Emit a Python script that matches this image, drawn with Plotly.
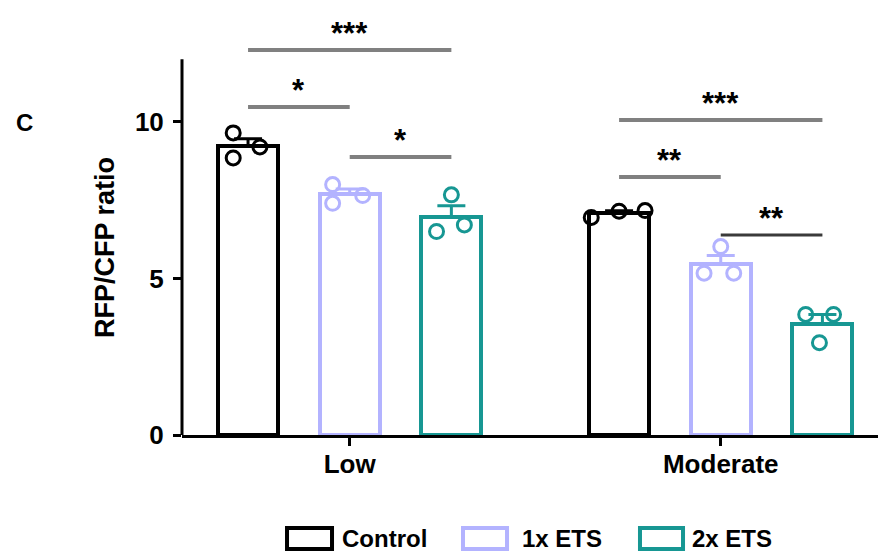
import numpy as np
import plotly.graph_objects as go

# ---------------- data ----------------
groups = ["Low", "Moderate"]
series = ["Control", "1x ETS", "2x ETS"]
# individual replicate values (RFP/CFP ratio), per group
control_pts = [[9.65, 8.85, 9.2], [6.95, 7.15, 7.17]]
ets1_pts = [[8.0, 7.4, 7.65], [6.02, 5.17, 5.17]]
ets2_pts = [[7.67, 6.5, 6.71], [3.85, 3.85, 2.95]]
y_ticks = [0, 5, 10]
# significance comparisons: (group index, series a, series b, label)
comparisons = [
    (0, 0, 2, "***"),
    (0, 0, 1, "*"),
    (0, 1, 2, "*"),
    (1, 0, 2, "***"),
    (1, 0, 1, "**"),
    (1, 1, 2, "**"),
]

# ---------------- style / layout ----------------
colors = ["#000000", "#b3b3ff", "#179793"]
slot = 0.274            # distance between bar centres within a group
bar_w = 0.162
jitter = [  # horizontal spread of replicate points (layout only)
    [[-0.04, -0.04, 0.032], [-0.075, 0.0, 0.07]],
    [[-0.046, -0.046, 0.035], [0.0, -0.045, 0.035]],
    [[0.0, -0.04, 0.035], [-0.045, 0.03, -0.008]],
]
sig_levels = [12.30, 10.48, 8.88, 10.06, 8.24, 6.39]
sig_colors = ["#808080", "#808080", "#808080", "#808080", "#808080", "#3a3a3a"]
sig_widths = [4, 4, 4, 4, 4, 3]
FONT = "Liberation Sans"

all_pts = [control_pts, ets1_pts, ets2_pts]
gx = np.arange(len(groups))

fig = go.Figure()
for k, (name, pts) in enumerate(zip(series, all_pts)):
    arr = np.array(pts, dtype=float)
    means = arr.mean(axis=1)
    sems = arr.std(axis=1, ddof=1) / np.sqrt(arr.shape[1])
    xc = gx + (k - 1) * slot
    fig.add_trace(go.Bar(
        x=xc, y=means, width=bar_w, name=name, showlegend=False,
        marker=dict(color="white", line=dict(color=colors[k], width=4)),
        error_y=dict(type="data", symmetric=False, array=sems,
                     arrayminus=[0] * len(means), color=colors[k],
                     thickness=3, width=14),
    ))
    px_, py_ = [], []
    for g in range(len(groups)):
        for j, v in enumerate(pts[g]):
            px_.append(xc[g] + jitter[k][g][j])
            py_.append(v)
    fig.add_trace(go.Scatter(
        x=px_, y=py_, mode="markers", showlegend=False,
        marker=dict(symbol="circle-open", size=14, color=colors[k],
                    line=dict(width=3, color=colors[k])),
    ))

# significance brackets
for (g, a, b, lab), lvl, c, w in zip(comparisons, sig_levels, sig_colors, sig_widths):
    x0 = g + (a - 1) * slot
    x1 = g + (b - 1) * slot
    fig.add_shape(type="line", xref="x", yref="y", x0=x0, x1=x1, y0=lvl, y1=lvl,
                  line=dict(color=c, width=w))
    fig.add_annotation(x=(x0 + x1) / 2, y=lvl, xref="x", yref="y", text=lab,
                       showarrow=False, yanchor="bottom", xanchor="center", yshift=-3,
                       font=dict(family=FONT, size=31, color="black", weight="bold"))

# y-axis line (only up to 12)
ymax_axis = 12
yr = [0, 13]
fig.add_shape(type="line", xref="paper", yref="paper", x0=0, x1=0,
              y0=0, y1=ymax_axis / yr[1], line=dict(color="black", width=3))

# custom legend
leg_boxes = [(0.1496, 0.2137), (0.4003, 0.4630), (0.6524, 0.7137)]
leg_text_x = [0.2251, 0.4815, 0.7236]
for k, name in enumerate(series):
    fig.add_shape(type="rect", xref="paper", yref="paper",
                  x0=leg_boxes[k][0], x1=leg_boxes[k][1], y0=-0.2801, y1=-0.2285,
                  line=dict(color=colors[k], width=4), fillcolor="white")
    fig.add_annotation(x=leg_text_x[k], y=-0.254, xref="paper", yref="paper",
                       text=name, showarrow=False, xanchor="left", yanchor="middle",
                       font=dict(family=FONT, size=24, color="black", weight="bold"))

# panel letter and y title
fig.add_annotation(x=-0.225, y=0.769, xref="paper", yref="paper", text="C",
                   showarrow=False, xanchor="center", yanchor="middle",
                   font=dict(family=FONT, size=24, color="black", weight="bold"))
fig.add_annotation(x=-0.1097, y=0.462, xref="paper", yref="paper", text="RFP/CFP ratio",
                   textangle=-90, showarrow=False, xanchor="center", yanchor="middle",
                   font=dict(family=FONT, size=27, color="black", weight="bold"))

fig.update_layout(
    width=886, height=559,
    margin=dict(l=174, r=10, t=20, b=132),
    plot_bgcolor="white", paper_bgcolor="white",
    bargap=0, barmode="overlay",
    xaxis=dict(range=[-0.452, 1.44], tickvals=list(gx), ticktext=groups,
               showline=True, linecolor="black", linewidth=3,
               ticks="outside", ticklen=8, tickwidth=3, tickcolor="black",
               showgrid=False, zeroline=False, ticklabelstandoff=-4,
               tickfont=dict(family=FONT, size=26, color="black", weight="bold")),
    yaxis=dict(range=yr, tickvals=y_ticks, showline=False,
               ticks="outside", ticklen=8, tickwidth=3, tickcolor="black",
               showgrid=False, zeroline=False, ticklabelstandoff=4,
               tickfont=dict(family=FONT, size=26, color="black", weight="bold")),
)

fig.write_html("out.html")
